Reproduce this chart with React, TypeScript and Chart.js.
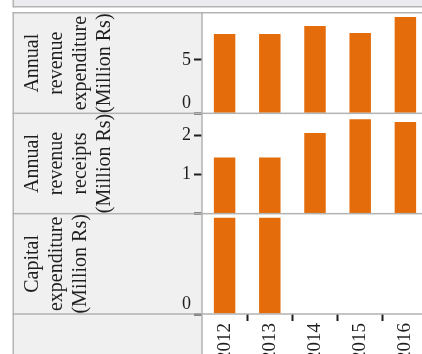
import React, { useEffect, useRef } from 'react';
import { Chart, registerables } from 'chart.js';

Chart.register(...registerables);

// ---- data ----
const years = ['2012', '2013', '2014', '2015', '2016'];
const revenueExpenditure = [7.41, 7.41, 8.16, 7.51, 9.0];
const revenueReceipts = [1.43, 1.43, 2.06, 2.41, 2.34];
const capitalExpenditure = [4.8, 4.8, null, null, null];
const expenditureTicks = [0, 5];
const expenditureTickLabels = ['0', '5'];
const receiptsTicks = [0, 1, 2];
const receiptsTickLabels = ['', '1', '2'];
const capitalTicks = [0];
const capitalTickLabels = ['0'];
const expenditureMax = 9.37;
const receiptsMax = 2.56;
const capitalMax = 5;
const rowTitles = [
  ['Annual', 'revenue', 'expenditure', '(Million Rs)'],
  ['Annual', 'revenue', 'receipts', '(Million Rs)'],
  ['Capital', 'expenditure', '(Million Rs)'],
];
const rowTickLabels = [expenditureTickLabels, receiptsTickLabels, capitalTickLabels];

const FONT = '"Liberation Serif", serif';
const BAR = '#e46c0a';
const TEXT = '#1e1e1e';
const LINE = '#b3b3b3';
const W = 428;
const H = 354;
const LEFT = 13;
const ROW_IDS = ['y1', 'y2', 'y3'];

const framePlugin = {
  id: 'frame',
  beforeDraw(chart: any) {
    const ctx = chart.ctx;
    const area = chart.chartArea;
    ctx.save();
    ctx.fillStyle = '#ffffff';
    ctx.fillRect(0, 0, W, H);
    // top strip
    ctx.fillStyle = '#ebebef';
    ctx.fillRect(LEFT, 0, W - LEFT, 6);
    ctx.fillStyle = LINE;
    ctx.fillRect(LEFT, 6, W - LEFT, 1.5);
    ctx.fillRect(12.5, 0, 1.5, 7.5);
    // header column
    ctx.fillStyle = '#f0f0f0';
    ctx.fillRect(LEFT, 12, area.left - LEFT, H - 12);
    // row titles
    ctx.fillStyle = TEXT;
    ctx.font = '20px ' + FONT;
    ctx.textAlign = 'center';
    ctx.textBaseline = 'alphabetic';
    ROW_IDS.forEach((id, i) => {
      const s = chart.scales[id];
      const cy = (s.top + s.bottom) / 2;
      rowTitles[i].forEach((line, j) => {
        ctx.save();
        ctx.translate(38 + j * 24, cy);
        ctx.rotate(-Math.PI / 2);
        ctx.fillText(line, 0, 0);
        ctx.restore();
      });
    });
    ctx.restore();
  },
  afterDatasetsDraw(chart: any) {
    const ctx = chart.ctx;
    const area = chart.chartArea;
    ctx.save();
    ctx.fillStyle = LINE;
    ctx.fillRect(12.5, 12, W, 1.5);
    ROW_IDS.forEach((id) => {
      const s = chart.scales[id];
      ctx.fillRect(12.5, s.bottom - 0.75, W, 1.5);
    });
    ctx.fillRect(12.5, 12, 1.5, H);
    ctx.fillRect(area.left - 0.75, 12, 1.5, H);
    ctx.restore();
  },
  afterDraw(chart: any) {
    const ctx = chart.ctx;
    ctx.save();
    ctx.fillStyle = TEXT;
    ctx.font = '18px ' + FONT;
    ctx.textAlign = 'right';
    ROW_IDS.forEach((id, i) => {
      const s = chart.scales[id];
      const x = s.right - 8 - 3;
      s.ticks.forEach((t: any, k: number) => {
        const py = s.getPixelForValue(t.value);
        const label = rowTickLabels[i][k] ?? '';
        if (!label) return;
        if (Math.abs(py - s.bottom) < 1) {
          ctx.textBaseline = 'alphabetic';
          ctx.fillText(label, x, s.bottom - 5.5);
        } else {
          ctx.textBaseline = 'middle';
          ctx.fillText(label, x, py);
        }
      });
    });
    ctx.restore();
  },
};

function yAxis(max: number, ticks: number[], weight: number) {
  return {
    type: 'linear',
    position: 'left',
    stack: 'rows',
    stackWeight: 1,
    weight,
    min: 0,
    max,
    bounds: 'data',
    z: 1,
    afterBuildTicks: (s: any) => {
      s.ticks = ticks.map((v) => ({ value: v }));
    },
    afterFit: (s: any) => {
      s.width = 189;
      s.paddingTop = 0;
      s.paddingBottom = 0;
      s.paddingLeft = 0;
      s.paddingRight = 0;
    },
    ticks: { display: false },
    grid: {
      display: true,
      drawOnChartArea: false,
      drawTicks: true,
      tickLength: 8,
      tickColor: TEXT,
      tickWidth: 2,
    },
    border: { display: false },
    title: { display: false },
  };
}

export default function App() {
  const ref = useRef<HTMLCanvasElement | null>(null);

  useEffect(() => {
    if (!ref.current) return;
    const ds = (data: (number | null)[], axis: string) => ({
      data,
      yAxisID: axis,
      backgroundColor: BAR,
      borderWidth: 0,
      grouped: false,
      categoryPercentage: 1,
      barPercentage: 0.475,
    });
    const chart = new Chart(ref.current, {
      type: 'bar',
      data: {
        labels: years,
        datasets: [
          ds(revenueExpenditure, 'y1'),
          ds(revenueReceipts, 'y2'),
          ds(capitalExpenditure, 'y3'),
        ],
      },
      options: {
        animation: false,
        responsive: false,
        maintainAspectRatio: false,
        devicePixelRatio: 1,
        layout: { autoPadding: false, padding: { left: LEFT, top: 13, right: 0, bottom: 0 } },
        plugins: { legend: { display: false }, tooltip: { enabled: false }, title: { display: false } },
        font: { family: FONT },
        scales: {
          x: {
            type: 'category',
            position: 'bottom',
            offset: true,
            z: 1,
            grid: {
              display: true,
              offset: true,
              drawOnChartArea: false,
              drawTicks: true,
              tickLength: 7,
              tickWidth: 2,
              tickColor: (c: any) => (c.index === 0 ? 'rgba(0,0,0,0)' : TEXT),
            },
            border: { display: false },
            ticks: {
              autoSkip: false,
              minRotation: 90,
              maxRotation: 90,
              padding: 2,
              color: TEXT,
              font: { size: 19, family: FONT },
            },
            afterFit: (s: any) => {
              s.height = 40;
              s.paddingLeft = 0;
              s.paddingRight = 0;
            },
          },
          y1: yAxis(expenditureMax, expenditureTicks, 3),
          y2: yAxis(receiptsMax, receiptsTicks, 2),
          y3: yAxis(capitalMax, capitalTicks, 1),
        },
      } as any,
      plugins: [framePlugin],
    });
    return () => chart.destroy();
  }, []);

  return (
    <div style={{ position: 'fixed', left: 0, top: 0, width: 422, height: 354, overflow: 'hidden', background: '#fff' }}>
      <canvas ref={ref} width={W} height={H} style={{ width: W, height: H, display: 'block' }} />
    </div>
  );
}
